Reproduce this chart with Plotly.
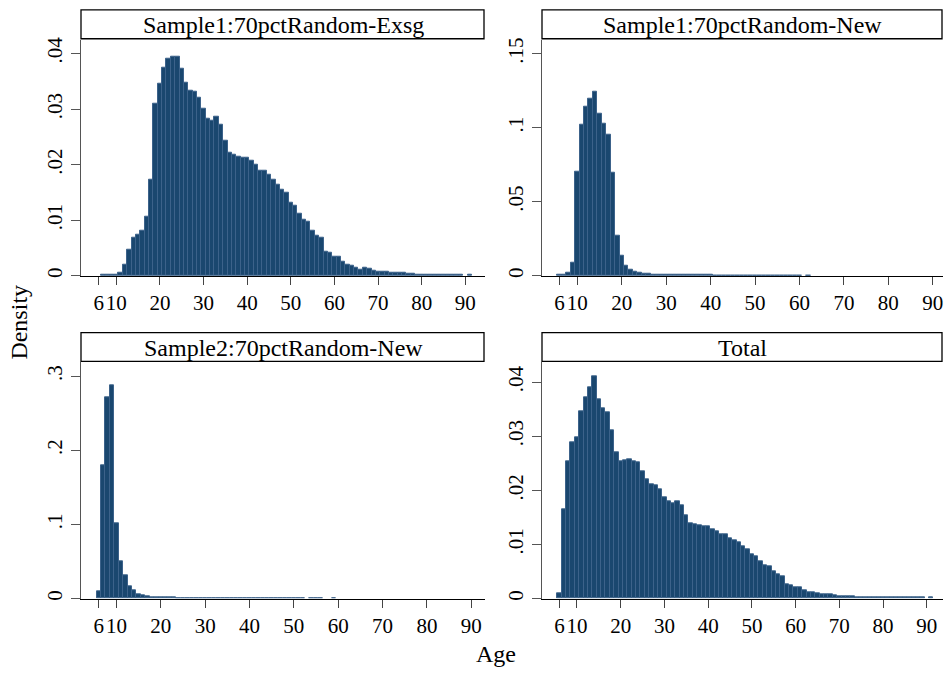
import plotly.graph_objects as go

W, H = 944, 675

ages = list(range(6, 92))

# Density by single year of age (6..91)
exsg = [None, .0002, .0002, .0003, .0003,
        .0006, .0020, .0048, .0068, .0074, .0081, .0106, .0174, .0309, .0345,
        .0374, .0391, .0395, .0395, .0373, .0347, .0334, .0332, .0320, .0300,
        .0283, .0279, .0287, .0272, .0244, .0222, .0218, .0215, .0213, .0213,
        .0207, .0200, .0189, .0189, .0182, .0173, .0165, .0155, .0149, .0131,
        .0127, .0112, .0102, .0097, .0081, .0073, .0068, .0044, .0041, .0035,
        .0035, .0026, .0021, .0018, .0015, .0012, .0014, .0013, .0010, .0008,
        .0008, .0007, .0006, .0005, .0005, .0005, .0004, .0004, .0003, .0003,
        .0003, .0003, .0003, .0003, .0002, .0002, .0002, .0002, .0002, None,
        .0002]

new1 = [.0008, .0008, .0020, .0087, .0702,
        .1019, .1144, .1197, .1242, .1097, .1025, .0952, .0695, .0274, .0134,
        .0069, .0045, .0029, .0020, .0016, .0013, .0011, .0010, .0009, .0008,
        .0007, .0007, .0007, .0007, .0006, .0006, .0006, .0006, .0006, .0006,
        .0005, .0005, .0005, .0005, .0005, .0005, .0005, .0005, .0005, .0005,
        .0004, .0004, .0004, .0004, .0004, .0004, .0004, .0004, .0004, .0004,
        None, .0003, None, None, None, None, None, None, None, None,
        None, None, None, None, None, None, None, None, None, None,
        None, None, None, None, None, None, None, None, None, None,
        None]

new2 = [.0103, .1795, .2714, .2875, .1018,
        .0509, .0308, .0165, .0107, .0058, .0040, .0027, .0018, .0015, .0013,
        .0012, .0011, .0011, .0010, .0010, .0010, .0009, .0009, .0009, .0009,
        .0008, .0008, .0008, .0008, .0007, .0007, .0007, .0007, .0007, .0007,
        .0006, .0006, .0006, .0006, .0006, .0006, .0005, .0005, .0005, .0005,
        .0005, .0005, None, .0005, .0005, .0005, None, None, .0004, None,
        None, None, None, None, None, None, None, None, None, None,
        None, None, None, None, None, None, None, None, None, None,
        None, None, None, None, None, None, None, None, None, None,
        None]

total = [.0009, .0165, .0254, .0289, .0298,
         .0347, .0372, .0391, .0411, .0369, .0352, .0345, .0311, .0271, .0254,
         .0255, .0257, .0254, .0252, .0236, .0220, .0211, .0209, .0202, .0188,
         .0179, .0177, .0180, .0172, .0154, .0140, .0138, .0136, .0134, .0134,
         .0129, .0125, .0118, .0118, .0112, .0108, .0104, .0096, .0092, .0081,
         .0078, .0069, .0062, .0060, .0050, .0045, .0042, .0027, .0024, .0021,
         .0021, .0015, .0012, .0011, .0009, .0007, .0008, .0008, .0006, .0005,
         .0004, .0004, .0004, .0003, .0003, .0003, .0003, .0003, .0003, .0003,
         .0002, .0002, .0002, .0002, .0002, .0002, .0002, .0002, .0002, None,
         .0002]

titles = ["Sample1:70pctRandom-Exsg", "Sample1:70pctRandom-New",
          "Sample2:70pctRandom-New", "Total"]
series = [exsg, new1, new2, total]

xtick_vals = [6, 10, 20, 30, 40, 50, 60, 70, 80, 90]
xtick_text = ["6", "10", "20", "30", "40", "50", "60", "70", "80", "90"]

ytick_vals = [[0, .01, .02, .03, .04], [0, .05, .1, .15],
              [0, .1, .2, .3], [0, .01, .02, .03, .04]]
ytick_text = [["0", ".01", ".02", ".03", ".04"], ["0", ".05", ".1", ".15"],
              ["0", ".1", ".2", ".3"], ["0", ".01", ".02", ".03", ".04"]]

x_ranges = [[1.92, 94.5], [2.04, 92.3], [2.0, 93.1], [2.0, 93.7]]
y_ranges = [[0, 0.0425], [0, 0.1594], [0, 0.3188], [0, 0.0437]]

BAR = "#1a476f"
FONT = "Liberation Serif"


def px_x(p):
    return p / W


def px_y(p):
    return (H - p) / H


# pixel boxes of plot areas: (left, right, top, bottom)
boxes = [(81, 485, 37, 275), (542, 943, 37, 275),
         (81, 485, 362, 600), (542, 943, 362, 600)]
strips = [(7, 36), (7, 36), (332, 361), (332, 361)]

fig = go.Figure()
layout = dict(width=W, height=H, margin=dict(l=0, r=0, t=0, b=0),
              paper_bgcolor="white", plot_bgcolor="white",
              showlegend=False, bargap=0,
              font=dict(family=FONT, color="black", size=20))
shapes = []
annotations = []

for i in range(4):
    sfx = "" if i == 0 else str(i + 1)
    fig.add_trace(go.Bar(
        x=ages, y=series[i], width=1,
        marker=dict(color=BAR, line=dict(color="rgb(60,98,138)", width=1)),
        xaxis="x" + sfx, yaxis="y" + sfx, hoverinfo="x+y"))
    l, r, t, b = boxes[i]
    layout["xaxis" + sfx] = dict(
        domain=[px_x(l), px_x(r)], anchor="y" + sfx, range=x_ranges[i],
        tickmode="array", tickvals=xtick_vals, ticktext=xtick_text,
        ticks="outside", ticklen=8, tickwidth=1.3, tickcolor="#444",
        showline=True, linecolor="black", linewidth=1.3,
        showgrid=False, zeroline=False, tickangle=0,
        tickfont=dict(family=FONT, size=21, color="black"))
    layout["yaxis" + sfx] = dict(
        domain=[px_y(b), px_y(t)], anchor="x" + sfx, range=y_ranges[i],
        tickmode="array", tickvals=ytick_vals[i], ticktext=ytick_text[i],
        ticks="outside", ticklen=9, tickwidth=1.3, tickcolor="#555",
        showline=True, linecolor="#555", linewidth=1.3,
        showgrid=False, zeroline=False, tickangle=-90,
        tickfont=dict(family=FONT, size=21, color="black"))
    s0, s1 = strips[i]
    shapes.append(dict(type="rect", xref="paper", yref="paper",
                       x0=px_x(l), x1=px_x(r - 1), y0=px_y(s1), y1=px_y(s0),
                       line=dict(color="black", width=1.3), fillcolor="white"))
    annotations.append(dict(text=titles[i], xref="paper", yref="paper",
                            x=px_x((l + r) / 2), y=px_y((s0 + s1) / 2 + 1),
                            xanchor="center", yanchor="middle", showarrow=False,
                            font=dict(family=FONT, size=24, color="black")))

annotations.append(dict(text="Density", xref="paper", yref="paper",
                        x=px_x(19), y=px_y(322), textangle=-90,
                        xanchor="center", yanchor="middle", showarrow=False,
                        font=dict(family=FONT, size=24, color="black")))
annotations.append(dict(text="Age", xref="paper", yref="paper",
                        x=px_x(496), y=px_y(656),
                        xanchor="center", yanchor="middle", showarrow=False,
                        font=dict(family=FONT, size=24, color="black")))

layout["shapes"] = shapes
layout["annotations"] = annotations
fig.update_layout(**layout)
fig.write_html("out.html")
